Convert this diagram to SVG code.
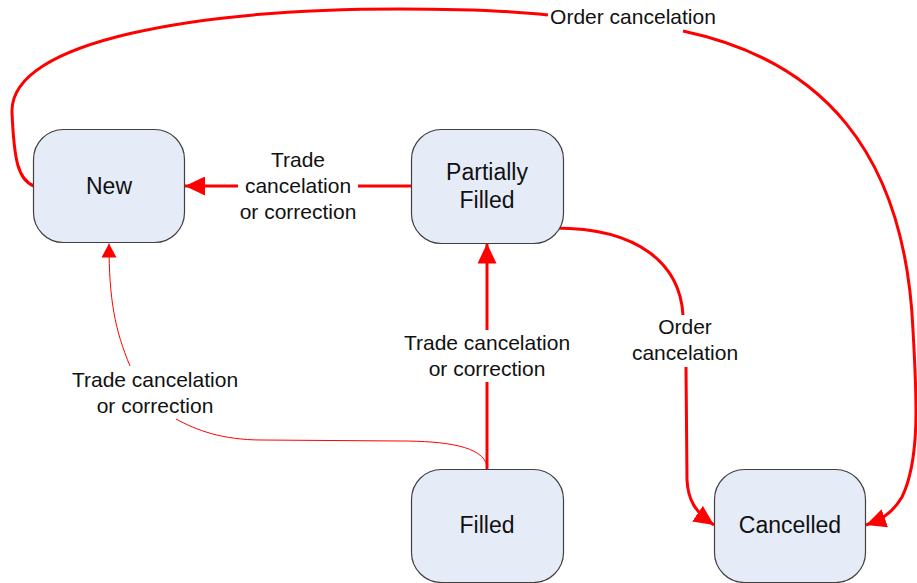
<svg xmlns="http://www.w3.org/2000/svg" width="917" height="583" viewBox="0 0 917 583">
<style>
.node rect{fill:#E6ECF7;stroke:#404040;stroke-width:1.2}
.node text{font-family:"Liberation Sans",Arial,sans-serif;font-size:23px;fill:#111;text-anchor:middle}
.lbl{font-family:"Liberation Sans",Arial,sans-serif;font-size:21px;fill:#111;text-anchor:middle}
.thick{fill:none;stroke:#FF0000;stroke-width:3}
.thin{fill:none;stroke:#FF0000;stroke-width:1}
</style>
<defs>
<marker id="big" markerUnits="userSpaceOnUse" markerWidth="20" markerHeight="19" refX="20" refY="9.5" orient="auto">
<path d="M0,0 L20,9.5 L0,19 z" fill="#FF0000"/>
</marker>
<marker id="small" markerUnits="userSpaceOnUse" markerWidth="14" markerHeight="15" refX="14" refY="7.5" orient="auto">
<path d="M0,0 L14,7.5 L0,15 z" fill="#FF0000"/>
</marker>
</defs>
<g id="connectors">
<path class="thick" d="M411,186 L358,186"/>
<path class="thick" d="M238,186 L185,186" marker-end="url(#big)"/>
<path class="thick" d="M487,469 L487,382"/>
<path class="thick" d="M487,330 L487,243.5" marker-end="url(#big)"/>
<path class="thin" d="M487,466 C483,446 445,441 400,441 L262,440 C222,440 196,430 176,419"/>
<path class="thin" d="M130,366 C115,330 109,300 109,243.5" marker-end="url(#small)"/>
<path class="thick" d="M555,228 C640,228 680,265 683,315"/>
<path class="thick" d="M686,367 L687,480 C688,500 695,512 714,525" marker-end="url(#big)"/>
<path class="thick" d="M34,186 C18,180 14,160 12,112 C10,40 200,9 400,9 C470,9 520,12 548,15"/>
<path class="thick" d="M683,31 C820,60 905,150 913,330 C917,400 920,460 902,497 C892,514 880,520 866,525" marker-end="url(#big)"/>
<text class="lbl" x="298" y="167">Trade</text>
<text class="lbl" x="298" y="193">cancelation</text>
<text class="lbl" x="298" y="218.5">or correction</text>
<text class="lbl" x="487" y="350">Trade cancelation</text>
<text class="lbl" x="487" y="375.5">or correction</text>
<text class="lbl" x="155" y="387">Trade cancelation</text>
<text class="lbl" x="155" y="412.5">or correction</text>
<text class="lbl" x="685" y="334">Order</text>
<text class="lbl" x="685" y="359.5">cancelation</text>
<text class="lbl" x="633" y="24">Order cancelation</text>
</g>
<g id="node-new" class="node">
<rect x="33.5" y="129.5" width="151" height="113" rx="30"/>
<text x="109" y="194">New</text>
</g>
<g id="node-partially-filled" class="node">
<rect x="411.5" y="129.5" width="152" height="114" rx="30"/>
<text x="487" y="179.5">Partially</text>
<text x="487" y="207.5">Filled</text>
</g>
<g id="node-filled" class="node">
<rect x="411.5" y="469.5" width="152" height="113" rx="30"/>
<text x="487" y="533">Filled</text>
</g>
<g id="node-cancelled" class="node">
<rect x="714.5" y="469.5" width="151" height="113" rx="30"/>
<text x="790" y="533">Cancelled</text>
</g>
</svg>
